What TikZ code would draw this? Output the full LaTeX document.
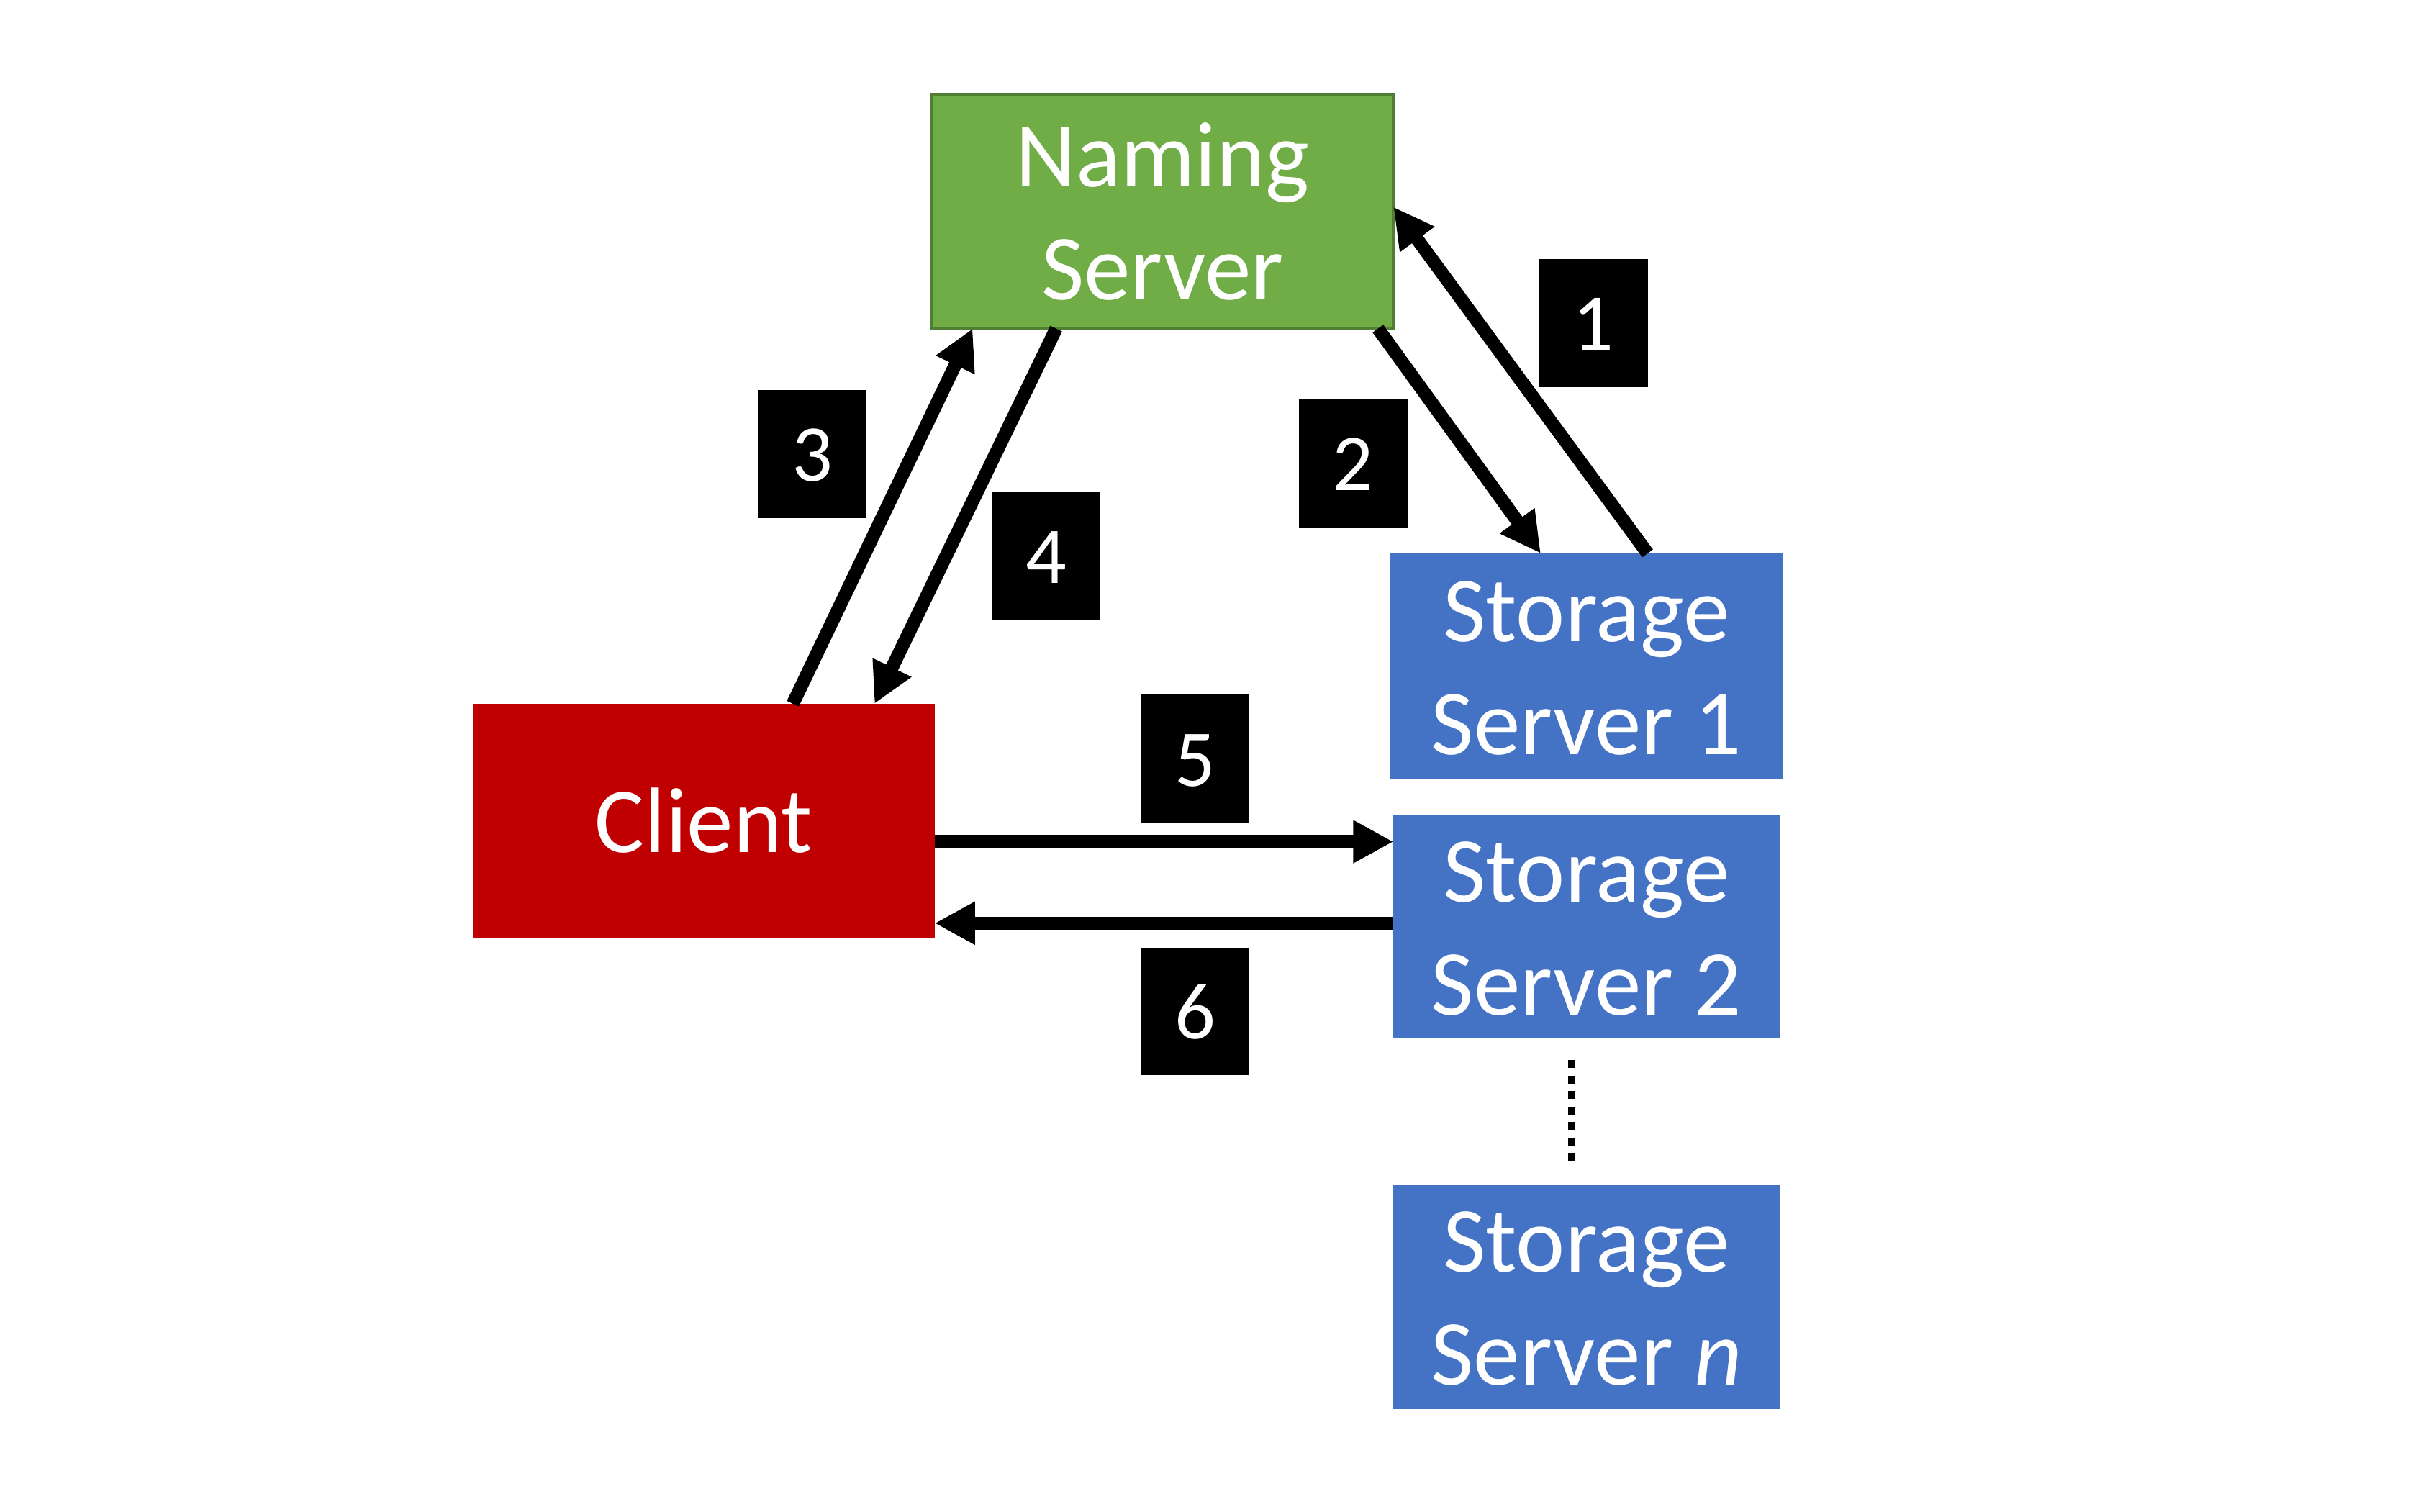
\documentclass[tikz,border=0pt]{standalone}
\usepackage{fontspec}
\setmainfont{Carlito}
\usetikzlibrary{arrows.meta,calc}
\definecolor{nsgreen}{HTML}{70AD47}
\definecolor{nsborder}{HTML}{507E32}
\definecolor{clred}{HTML}{C00000}
\definecolor{ssblue}{HTML}{4472C4}
\begin{document}
\begin{tikzpicture}[x=1pt,y=-1pt,
  box/.style={rectangle, inner sep=0pt, outer sep=0pt},
  boxtext/.style={text=white, font=\fontsize{60}{73}\selectfont, anchor=base, inner sep=0pt, outer sep=0pt},
  numbox/.style={rectangle, fill=black, text=white, inner sep=0pt, outer sep=0pt,
    minimum width=70pt, minimum height=82.5pt, text height=35pt, text depth=0pt,
    font=\fontsize{52}{62}\selectfont},
  arr/.style={line width=8.5pt, -{Triangle[length=26pt,width=26pt]}},
  dots/.style={line width=5pt, dash pattern=on 5pt off 5pt},
]
\useasboundingbox (0,0) rectangle (1560,975);

% main boxes
\node[box, fill=nsgreen, draw=nsborder, line width=2pt, minimum width=298pt, minimum height=151pt] (ns) at (750,136.5) {};
\node[box, fill=clred, minimum width=298pt, minimum height=151pt, text=white,
      font=\fontsize{60}{73}\selectfont, text height=40.8pt, text depth=0pt] (client) at (454,529.5) {Client};
\node[box, fill=ssblue, minimum width=253pt, minimum height=146pt] (ss1) at (1023.5,430) {};
\node[box, fill=ssblue, minimum width=249pt, minimum height=144pt] (ss2) at (1023.5,598) {};
\node[box, fill=ssblue, minimum width=249pt, minimum height=145pt] (ssn) at (1023.5,836.5) {};

% box texts
\node[boxtext] (nst1) at ($(ns.center)+(0,-16)$) {Naming};
\node[boxtext] (nst2) at ($(ns.center)+(0,57)$) {Server};
\node[boxtext] (s1t1) at ($(ss1.center)+(0,-16)$) {Storage};
\node[boxtext] (s1t2) at ($(ss1.center)+(0,57)$) {Server 1};
\node[boxtext] (s2t1) at ($(ss2.center)+(0,-16)$) {Storage};
\node[boxtext] (s2t2) at ($(ss2.center)+(0,57)$) {Server 2};
\node[boxtext] (snt1) at ($(ssn.center)+(0,-16)$) {Storage};
\node[boxtext] (snt2) at ($(ssn.center)+(0,57)$) {Server \textit{n}};

% arrows
\draw[arr] ($(ss1.north west)+(166,0)$) -- ($(ns.east)+(0,-3)$);
\draw[arr] ($(ns.south west)+(288,0)$) -- ($(ss1.north west)+(97,0)$);
\draw[arr] ($(client.north west)+(206.5,0)$) -- ($(ns.south west)+(26.5,0)$);
\draw[arr] ($(ns.south west)+(80.4,0)$) -- ($(client.north west)+(259.2,0)$);
\draw[arr] ($(client.east)+(0,13.5)$) -- ($(ss2.west)+(0,-55)$);
\draw[arr] ($(ss2.west)+(0,-2.4)$) -- ($(client.east)+(0,66.1)$);

% dotted continuation
\coordinate (dotA) at (1014,684);
\coordinate (dotB) at (1014,751);
\draw[dots] (dotA) -- (dotB);

% step labels
\node[numbox] (lab1) at (1028,208.5) {1};
\node[numbox] (lab2) at (873,299) {2};
\node[numbox] (lab3) at (524,293) {3};
\node[numbox] (lab4) at (675,359) {4};
\node[numbox] (lab5) at (771,489.5) {5};
\node[numbox] (lab6) at (771,652.5) {6};
\end{tikzpicture}
\end{document}
